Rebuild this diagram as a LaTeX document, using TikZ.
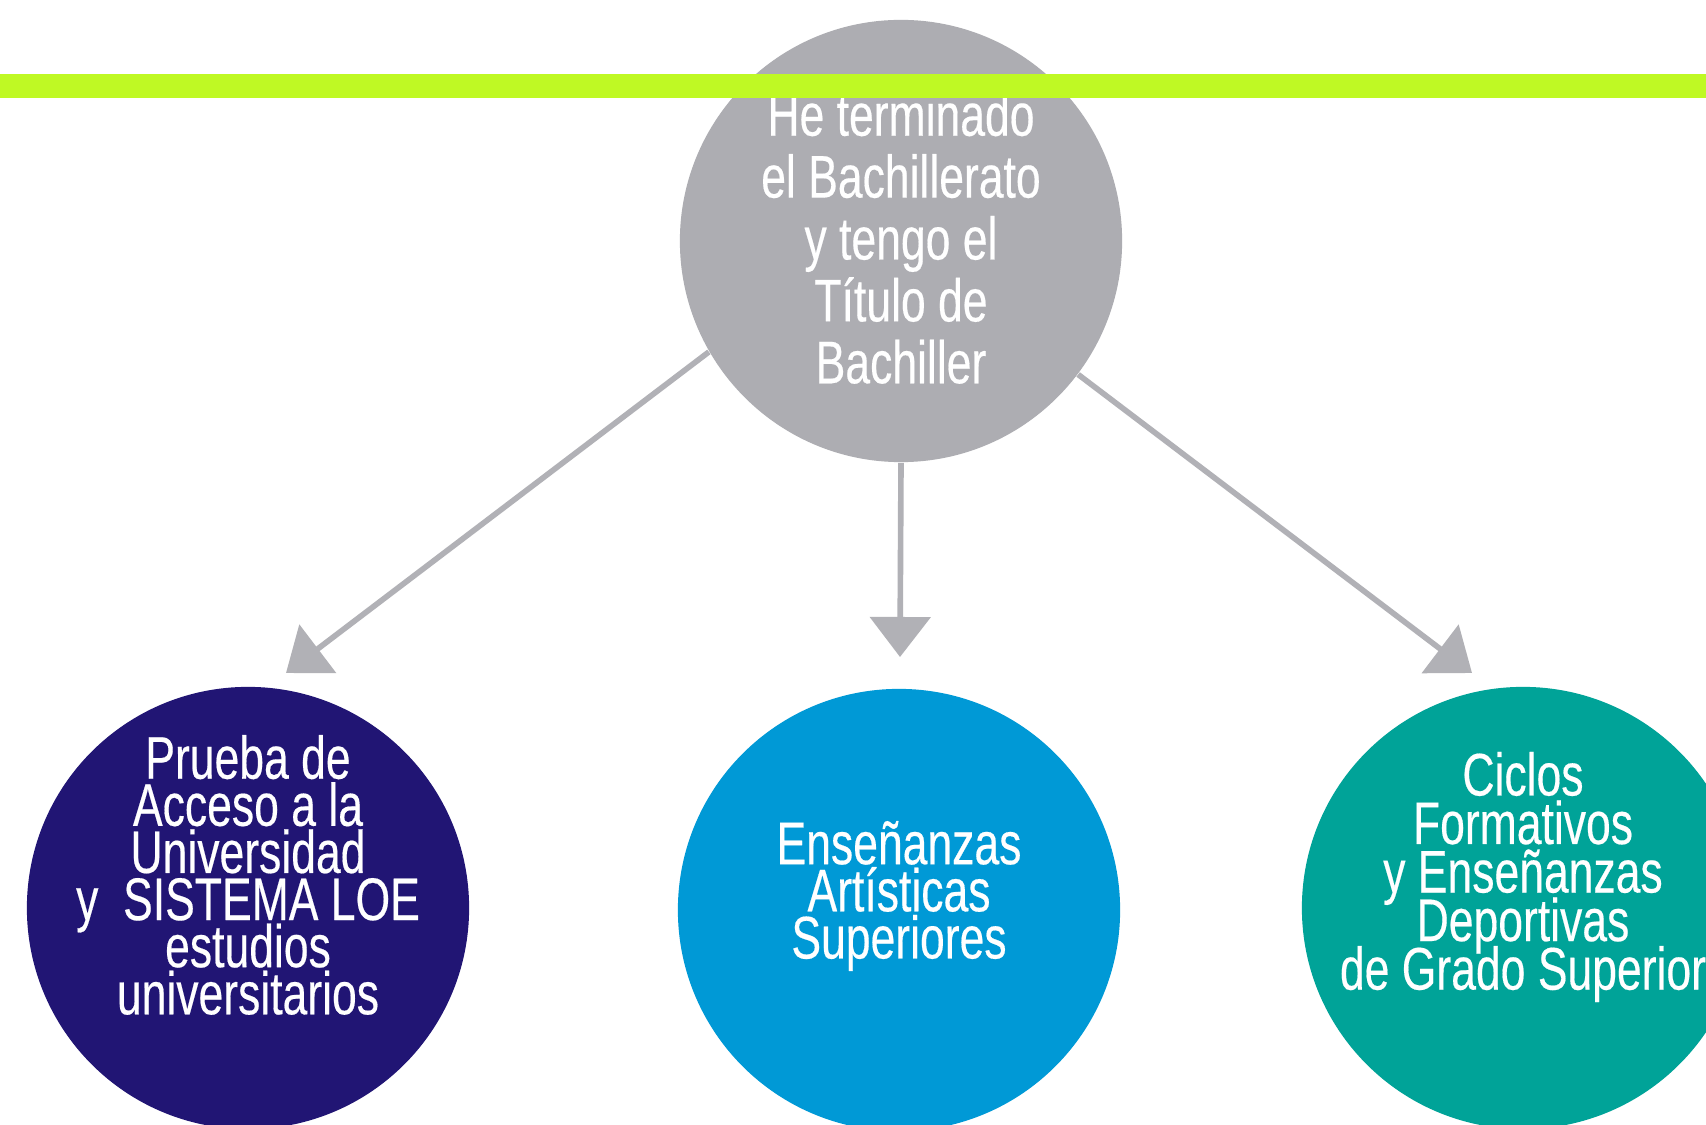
\documentclass[tikz,border=0pt]{standalone}
\usepackage{fontspec}
\setmainfont{Liberation Sans}
\newfontfamily\condsans[FakeStretch=0.74,FakeBold=0.3]{Liberation Sans}
\usetikzlibrary{arrows.meta}

\definecolor{bachgray}{HTML}{ADADB2}
\definecolor{arrgray}{HTML}{B1B1B6}
\definecolor{paunavy}{HTML}{211574}
\definecolor{artblue}{HTML}{0099D6}
\definecolor{cicteal}{HTML}{00A398}
\definecolor{barlime}{HTML}{BFF924}

\begin{document}
\setlength{\lineskiplimit}{-30pt}
\begin{tikzpicture}[x=0.01cm,y=-0.01cm,
  bubble/.style={circle,minimum size=4.42cm,inner sep=0pt},
  bubtext/.style={text=white,align=center,inner sep=0pt,
    font=\condsans\fontsize{17.1}{#1}\selectfont},
  arr/.style={draw=arrgray,line width=1.6pt,-{Triangle[length=4mm,width=6mm]}}]
\useasboundingbox (0,0) rectangle (1706,1125);
\fill[white] (0,0) rectangle (1706,1125);

% circles
\node[bubble,fill=bachgray] (bach) at (901,241) {};
\node[bubble,fill=paunavy] (pau) at (248,908) {};
\node[bubble,fill=artblue] (art) at (899,910) {};
\node[bubble,fill=cicteal] (cic) at (1523,908) {};

\node[bubtext=17.6] (bach-txt) at ([yshift=0.3mm]bach) {He terminado\\el Bachillerato\\y tengo el\\Título de\\Bachiller};
\node[bubtext=13.4] (pau-txt) at ([yshift=3.3mm]pau) {Prueba de\\Acceso a la\\Universidad\\y\ \ SISTEMA LOE\\estudios\\universitarios};
\node[bubtext=13.4] (art-txt) at ([yshift=1.4mm]art) {Enseñanzas\\Artísticas\\Superiores};
\node[bubtext=13.8] (cic-txt) at ([yshift=3.1mm]cic) {Ciclos\\Formativos\\y Enseñanzas\\Deportivas\\de Grado Superior};

% arrows
\coordinate (tipL) at (286,673);
\coordinate (tipM) at (900,657);
\coordinate (tipR) at (1472,673);
\draw[arr] (bach.210) -- (tipL);
\draw[arr] (bach.south) -- (tipM);
\draw[arr] (bach.323) -- (tipR);

\fill[barlime] (0,74) rectangle (1706,98);
\end{tikzpicture}
\end{document}
